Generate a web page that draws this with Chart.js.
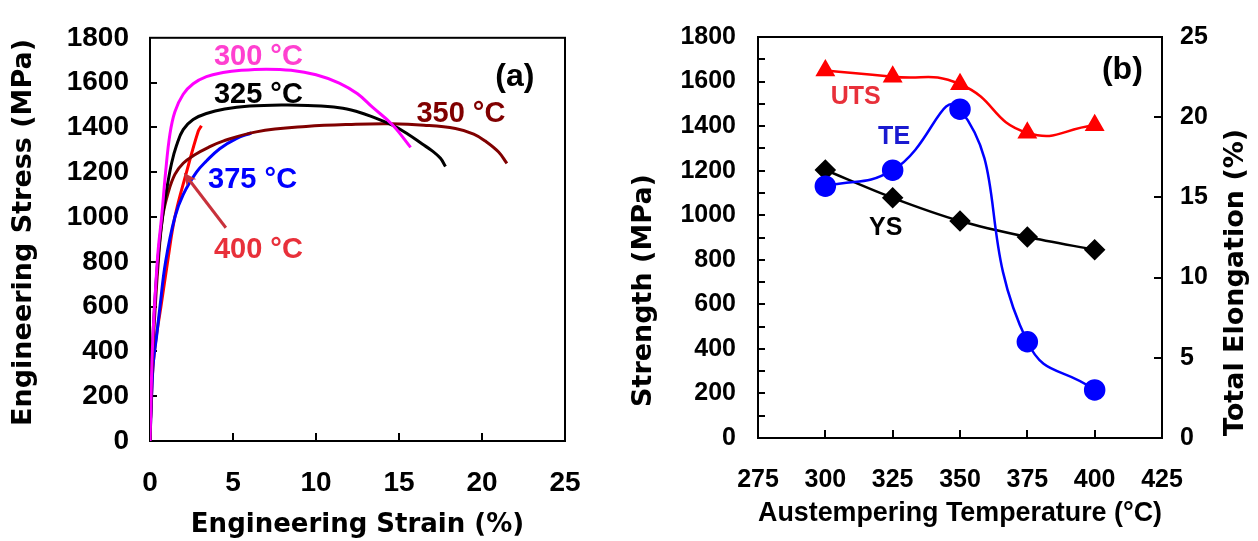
<!DOCTYPE html>
<html>
<head>
<meta charset="utf-8">
<script src="https://cdn.jsdelivr.net/npm/chart.js@4.4.1/dist/chart.umd.min.js"></script>
<style>
  html, body { margin: 0; padding: 0; background: #fff; }
  #wrap { position: relative; width: 1258px; height: 541px; }
  canvas { position: absolute; top: 0; }
  #curves { left: 0; }
  #props { left: 620px; }
</style>
</head>
<body>
<div id="wrap">
  <canvas id="curves" width="620" height="541"></canvas>
  <canvas id="props" width="638" height="541"></canvas>
</div>
<script>
// (a) engineering stress-strain curves, strain in %, stress in MPa
const strain300 = [0, 0.15, 0.35, 0.5, 0.7, 0.94, 1.2, 1.5, 2.0, 2.6, 3.4, 4.4, 5.5, 7.0, 8.5, 10.0, 11.4, 12.5, 13.4, 14.6, 15.7];
const stress300 = [0, 420, 700, 860, 1000, 1200, 1370, 1470, 1548, 1595, 1627, 1645, 1655, 1660, 1655, 1635, 1598, 1550, 1490, 1412, 1311];
const strain325 = [0, 0.15, 0.35, 0.55, 0.75, 1.0, 1.3, 1.6, 2.0, 2.6, 3.4, 4.5, 6.0, 8.0, 9.5, 11.4, 12.5, 13.4, 14.6, 15.5, 16.4, 17.0, 17.5, 17.8];
const stress325 = [0, 420, 690, 870, 1000, 1120, 1240, 1320, 1390, 1435, 1462, 1482, 1495, 1500, 1498, 1488, 1470, 1447, 1410, 1372, 1326, 1295, 1262, 1225];
const strain350 = [0, 0.12, 0.3, 0.5, 0.76, 1.1, 1.5, 2.0, 2.7, 3.5, 4.4, 6.4, 9.4, 12.4, 14.5, 16.5, 18.4, 19.5, 20.2, 21.0, 21.5];
const stress350 = [0, 330, 580, 800, 1000, 1110, 1190, 1240, 1278, 1310, 1339, 1380, 1404, 1414, 1416, 1410, 1395, 1370, 1339, 1290, 1239];
const strain375 = [0, 0.1, 0.2, 0.4, 0.6, 0.94, 1.5, 2.0, 2.8, 3.4, 4.2, 5.2, 6.1];
const stress375 = [0, 200, 350, 470, 600, 800, 1000, 1100, 1200, 1250, 1305, 1350, 1375];
const strain400 = [0, 0.15, 0.35, 0.66, 1.06, 1.5, 2.2, 2.9, 3.1];
const stress400 = [0, 300, 450, 600, 800, 1000, 1200, 1382, 1407];

// (b) properties vs austempering temperature
const temps = [300, 325, 350, 375, 400];
const utsMPa = [1650, 1622, 1588, 1370, 1404];
const ysMPa = [1203, 1078, 974, 902, 845];
const tePct = [15.7, 16.7, 20.5, 6.0, 3.0];

Chart.defaults.font.family = '"Liberation Sans", Arial, sans-serif';
Chart.defaults.font.weight = 'bold';
Chart.defaults.color = '#000';

const ARIAL = '"Liberation Sans", Arial, sans-serif';
const DEJAVU = '"DejaVu Sans", sans-serif';

function pts(xs, ys) {
  return xs.map((x, i) => ({ x: x, y: ys[i] }));
}

function plain(v) {
  return String(v);
}

// box round the plot, inward tick marks, text notes, arrow and y titles
const framePlugin = {
  id: 'frame',
  beforeDatasetsDraw(chart, args, opts) {
    const ctx = chart.ctx;
    const a = chart.chartArea;
    ctx.save();
    ctx.strokeStyle = '#000';
    ctx.lineWidth = 2;
    ctx.beginPath();
    (opts.marks || []).forEach(m => {
      const s = chart.scales[m.scale];
      for (let v = m.from; v <= m.to + 1e-6; v += m.step) {
        const p = Math.round(s.getPixelForValue(v));
        if (m.side === 'bottom') { ctx.moveTo(p, a.bottom); ctx.lineTo(p, a.bottom - m.len); }
        else if (m.side === 'left') { ctx.moveTo(a.left, p); ctx.lineTo(a.left + m.len, p); }
        else { ctx.moveTo(a.right, p); ctx.lineTo(a.right - m.len, p); }
      }
    });
    ctx.stroke();
    ctx.strokeRect(a.left, a.top, a.right - a.left, a.bottom - a.top);
    ctx.restore();
  },
  afterDatasetsDraw(chart, args, opts) {
    const ctx = chart.ctx;
    const a = chart.chartArea;
    const sx = chart.scales.x;
    ctx.save();
    ctx.textAlign = 'left';
    ctx.textBaseline = 'middle';
    (opts.notes || []).forEach(n => {
      const sy = chart.scales[n.scale || 'y'];
      ctx.font = 'bold ' + n.size + 'px ' + ARIAL;
      ctx.fillStyle = n.color;
      ctx.fillText(n.text, sx.getPixelForValue(n.x), sy.getPixelForValue(n.y));
    });

    const ar = opts.arrow;
    if (ar) {
      const sy = chart.scales.y;
      const x1 = sx.getPixelForValue(ar.from[0]), y1 = sy.getPixelForValue(ar.from[1]);
      const x2 = sx.getPixelForValue(ar.to[0]), y2 = sy.getPixelForValue(ar.to[1]);
      const ang = Math.atan2(y2 - y1, x2 - x1);
      ctx.strokeStyle = ar.color;
      ctx.fillStyle = ar.color;
      ctx.lineWidth = 3;
      ctx.beginPath();
      ctx.moveTo(x1, y1);
      ctx.lineTo(x2 - 8 * Math.cos(ang), y2 - 8 * Math.sin(ang));
      ctx.stroke();
      ctx.beginPath();
      ctx.moveTo(x2, y2);
      ctx.lineTo(x2 - 14 * Math.cos(ang - 0.45), y2 - 14 * Math.sin(ang - 0.45));
      ctx.lineTo(x2 - 9 * Math.cos(ang), y2 - 9 * Math.sin(ang));
      ctx.lineTo(x2 - 14 * Math.cos(ang + 0.45), y2 - 14 * Math.sin(ang + 0.45));
      ctx.closePath();
      ctx.fill();
    }

    (opts.titles || []).forEach(t => {
      const cx = t.side === 'left' ? a.left + t.dx : a.right + t.dx;
      const cy = (a.top + a.bottom) / 2 + t.dy;
      ctx.save();
      ctx.translate(cx, cy);
      ctx.rotate(-Math.PI / 2);
      ctx.textAlign = 'center';
      ctx.font = 'bold 27px ' + DEJAVU;
      ctx.fillStyle = '#000';
      ctx.fillText(t.text, 0, 0);
      ctx.restore();
    });
    ctx.restore();
  }
};

const curveSets = [
  { label: '300 °C', xs: strain300, ys: stress300, color: '#ff00ff' },
  { label: '325 °C', xs: strain325, ys: stress325, color: '#000000' },
  { label: '350 °C', xs: strain350, ys: stress350, color: '#800000' },
  { label: '375 °C', xs: strain375, ys: stress375, color: '#0000ff' },
  { label: '400 °C', xs: strain400, ys: stress400, color: '#ff0000' }
];

new Chart(document.getElementById('curves'), {
  type: 'line',
  data: {
    datasets: curveSets.map(c => ({
      label: c.label,
      data: pts(c.xs, c.ys),
      borderColor: c.color,
      borderWidth: 3,
      pointRadius: 0,
      fill: false,
      tension: 0.4
    }))
  },
  options: {
    responsive: false,
    animation: false,
    events: [],
    layout: { padding: { left: 0, top: 23, right: 55, bottom: 0 } },
    plugins: {
      legend: { display: false },
      tooltip: { enabled: false },
      frame: {
        marks: [
          { scale: 'x', side: 'bottom', from: 5, to: 20, step: 5, len: 8 },
          { scale: 'y', side: 'left', from: 200, to: 1600, step: 200, len: 7 }
        ],
        notes: [
          { text: '300 °C', x: 3.85, y: 1713, color: '#ff40d0', size: 29 },
          { text: '325 °C', x: 3.85, y: 1543, color: '#000000', size: 29 },
          { text: '350 °C', x: 16.05, y: 1461, color: '#800000', size: 29 },
          { text: '375 °C', x: 3.5, y: 1163, color: '#0000ff', size: 29 },
          { text: '400 °C', x: 3.85, y: 853, color: '#e8303a', size: 29 },
          { text: '(a)', x: 20.8, y: 1624, color: '#000000', size: 32 }
        ],
        arrow: { from: [4.57, 952], to: [2.04, 1197], color: '#c8323c' },
        titles: [
          { text: 'Engineering Stress (MPa)', side: 'left', dx: -126, dy: -7 }
        ]
      }
    },
    scales: {
      x: {
        type: 'linear',
        min: 0,
        max: 25,
        ticks: { stepSize: 5, padding: 25, autoSkip: false, maxRotation: 0, callback: plain, font: { size: 28, weight: 'bold' } },
        grid: { display: false, drawTicks: false },
        border: { display: false },
        title: {
          display: true,
          text: 'Engineering Strain (%)',
          font: { family: DEJAVU, size: 26, weight: 'bold' },
          padding: { top: 0, bottom: 0 }
        },
        afterFit: s => { s.height = 100; }
      },
      y: {
        min: 0,
        max: 1800,
        ticks: { stepSize: 200, padding: 21, autoSkip: false, callback: plain, font: { size: 28, weight: 'bold' } },
        grid: { display: false, drawTicks: false },
        border: { display: false },
        afterFit: s => { s.width = 150; }
      }
    }
  },
  plugins: [framePlugin]
});

new Chart(document.getElementById('props'), {
  type: 'line',
  data: {
    datasets: [
      {
        label: 'TE',
        yAxisID: 'y1',
        data: pts(temps, tePct),
        borderColor: '#0000ff',
        backgroundColor: '#0000ff',
        borderWidth: 2.5,
        pointStyle: 'circle',
        pointRadius: 9.5,
        tension: 0.5
      },
      {
        label: 'UTS',
        yAxisID: 'y',
        data: pts(temps, utsMPa),
        borderColor: '#ff0000',
        backgroundColor: '#ff0000',
        borderWidth: 2.5,
        pointStyle: 'triangle',
        pointRadius: 9,
        tension: 0.5
      },
      {
        label: 'YS',
        yAxisID: 'y',
        data: pts(temps, ysMPa),
        borderColor: '#000000',
        backgroundColor: '#000000',
        borderWidth: 2.5,
        pointStyle: 'rectRot',
        pointRadius: 9,
        tension: 0.3
      }
    ]
  },
  options: {
    responsive: false,
    animation: false,
    events: [],
    layout: { padding: { left: 0, top: 32, right: 0, bottom: 0 } },
    plugins: {
      legend: { display: false },
      tooltip: { enabled: false },
      frame: {
        marks: [
          { scale: 'x', side: 'bottom', from: 300, to: 400, step: 25, len: 8 },
          { scale: 'y', side: 'left', from: 100, to: 1700, step: 100, len: 7 },
          { scale: 'y1', side: 'right', from: 5, to: 20, step: 5, len: 8 }
        ],
        notes: [
          { text: 'UTS', x: 302, y: 1528, color: '#e8303a', size: 25 },
          { text: 'TE', x: 319.6, y: 1352, color: '#1a1ad0', size: 25 },
          { text: 'YS', x: 316.2, y: 940, color: '#000000', size: 25 },
          { text: '(b)', x: 402.7, y: 1649, color: '#000000', size: 32 }
        ],
        titles: [
          { text: 'Strength (MPa)', side: 'left', dx: -114.5, dy: 53 },
          { text: 'Total Elongation (%)', side: 'right', dx: 73.5, dy: 45 }
        ]
      }
    },
    scales: {
      x: {
        type: 'linear',
        min: 275,
        max: 425,
        ticks: { stepSize: 25, padding: 27, autoSkip: false, maxRotation: 0, callback: plain, font: { size: 25, weight: 'bold' } },
        grid: { display: false, drawTicks: false },
        border: { display: false },
        title: {
          display: true,
          text: 'Austempering Temperature (°C)',
          font: { size: 28, weight: 'bold' },
          padding: { top: 0, bottom: 11 }
        },
        afterFit: s => { s.height = 103; }
      },
      y: {
        position: 'left',
        min: 0,
        max: 1800,
        ticks: { stepSize: 200, padding: 22, autoSkip: false, callback: plain, font: { size: 25, weight: 'bold' } },
        grid: { display: false, drawTicks: false },
        border: { display: false },
        afterFit: s => { s.width = 138; }
      },
      y1: {
        position: 'right',
        min: 0,
        max: 25,
        ticks: { stepSize: 5, padding: 18, autoSkip: false, callback: plain, font: { size: 25, weight: 'bold' } },
        grid: { display: false, drawTicks: false },
        border: { display: false },
        afterFit: s => { s.width = 96; }
      }
    }
  },
  plugins: [framePlugin]
});
</script>
</body>
</html>
